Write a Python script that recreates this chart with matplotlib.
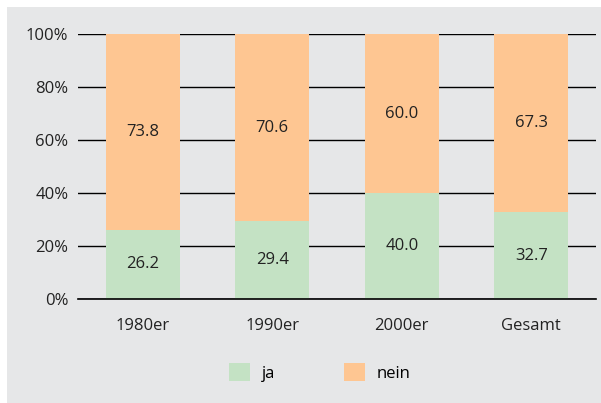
import matplotlib.pyplot as plt
from matplotlib.patches import Rectangle

categories = ['1980er', '1990er', '2000er', 'Gesamt']
ja = [26.2, 29.4, 40.0, 32.7]
nein = [73.8, 70.6, 60.0, 67.3]
yticks = [0, 20, 40, 60, 80, 100]

green = '#c4e2c4'
orange = '#fec692'
bg = '#e6e7e8'

plt.rcParams['font.family'] = ['Open Sans', 'DejaVu Sans']

fig = plt.figure(figsize=(6.01, 4.03), dpi=100)
fig.patch.set_facecolor('white')
# grey panel behind everything
fig.patches.append(Rectangle((7 / 601, 0), 1, 1 - 7 / 403, transform=fig.transFigure,
                             facecolor=bg, edgecolor='none', zorder=-10))

W, H = 601, 403
left, right, top, bottom = 78, 596, 34, 299
ax = fig.add_axes([left / W, 1 - bottom / H, (right - left) / W, (bottom - top) / H])
ax.set_facecolor('none')

x = range(len(categories))
ax.bar(x, ja, width=0.57, color=green, zorder=2, label='ja')
ax.bar(x, nein, width=0.57, bottom=ja, color=orange, zorder=2, label='nein')

for i in x:
    ax.text(i, ja[i] / 2, f'{ja[i]:.1f}', ha='center', va='center', fontsize=12, color='#222222', zorder=3)
    ax.text(i, ja[i] + nein[i] / 2, f'{nein[i]:.1f}', ha='center', va='center', fontsize=12, color='#222222', zorder=3)

ax.set_xlim(-0.5, 3.5)
ax.set_ylim(0, 100)
ax.set_yticks(yticks)
ax.set_yticklabels([f'{t}%' for t in yticks])
ax.set_xticks(list(x))
ax.set_xticklabels(categories)
ax.tick_params(length=0, labelsize=12, colors='#222222')
ax.tick_params(axis='x', pad=14)
ax.tick_params(axis='y', pad=7)
ax.grid(axis='y', color='black', linewidth=1.0, zorder=1)
ax.set_axisbelow(True)
ax.axhline(0, color='black', linewidth=1.2, zorder=4, clip_on=False)
for s in ax.spines.values():
    s.set_visible(False)

ax.legend(loc='center', bbox_to_anchor=(0.467, -0.277), ncol=2, frameon=False,
          fontsize=12, handlelength=1.26, handleheight=1.26, columnspacing=4.1,
          handletextpad=0.72)

fig.savefig('out.png', dpi=100, facecolor=fig.get_facecolor())
